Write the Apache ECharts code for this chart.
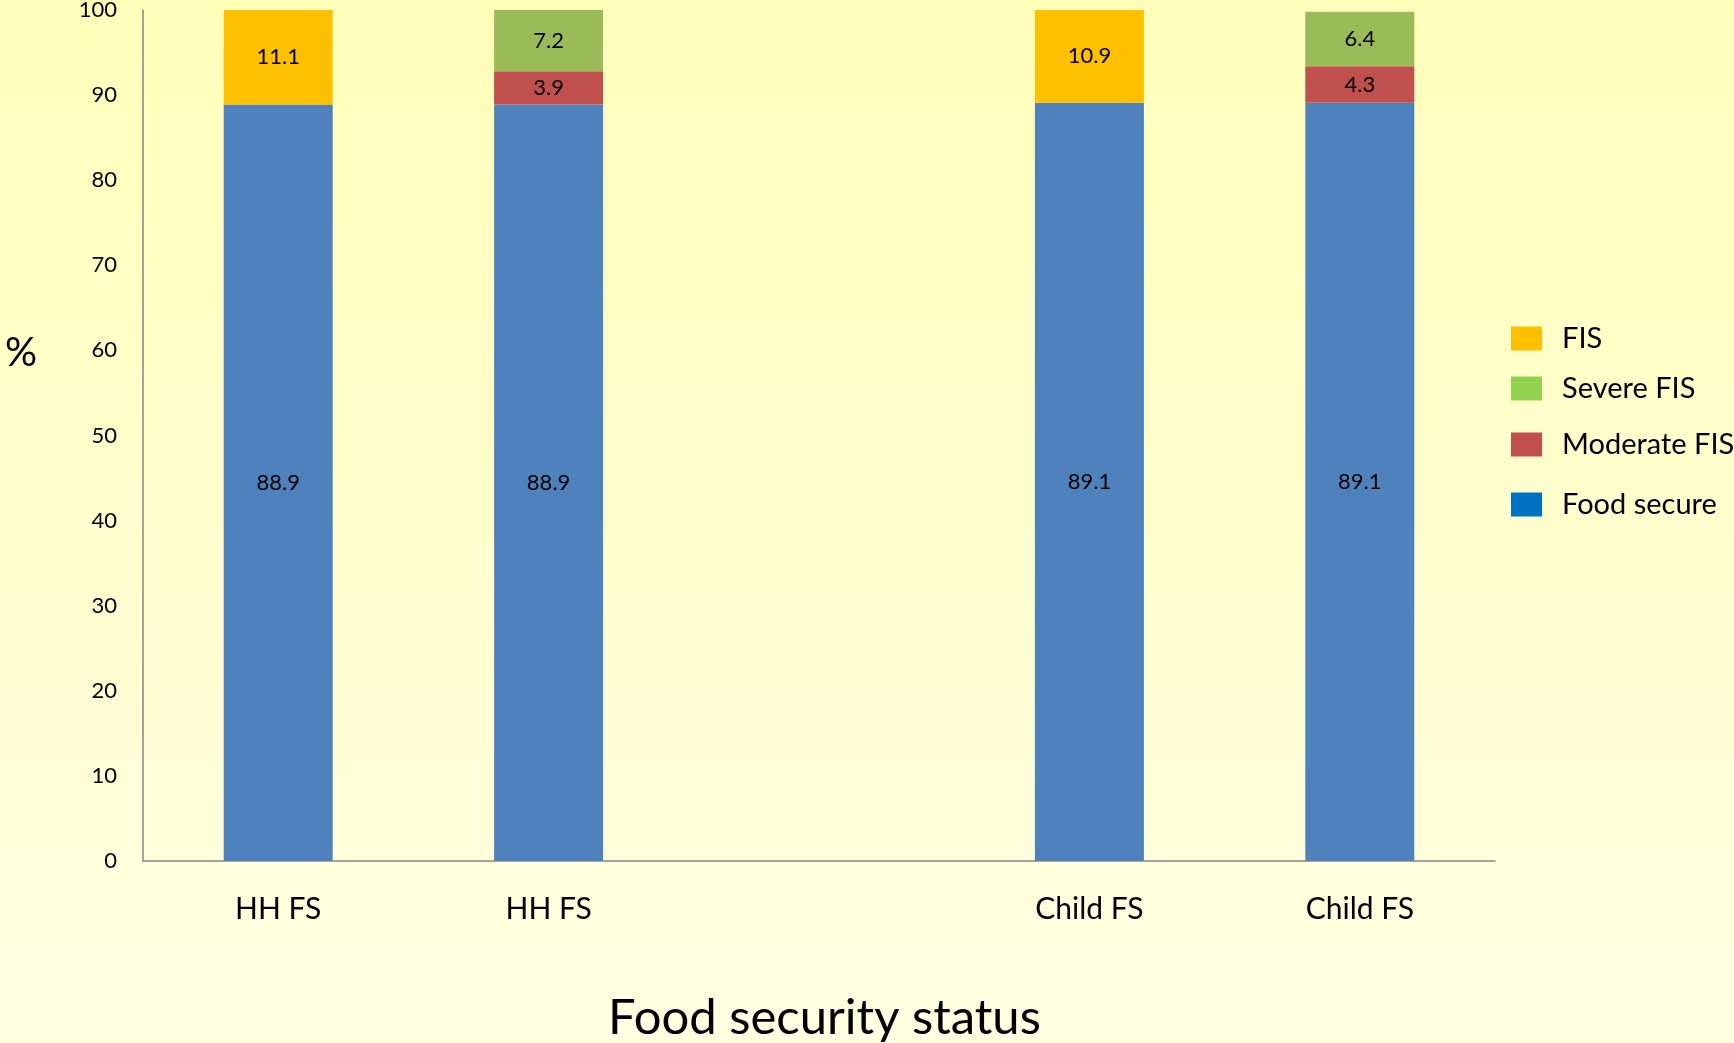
<!DOCTYPE html>
<html>
<head>
<meta charset="utf-8">
<script src="https://cdn.jsdelivr.net/npm/echarts@6/dist/echarts.min.js"></script>
<style>
html,body{margin:0;padding:0;}
#c{width:1734px;height:1043px;}
</style>
</head>
<body>
<div id="c"></div>
<script>
var categories = ['HH FS', 'HH FS', '', 'Child FS', 'Child FS'];
var foodSecure = [88.9, 88.9, '-', 89.1, 89.1];
var fis = [11.1, '-', '-', 10.9, '-'];
var moderateFis = ['-', 3.9, '-', '-', 4.3];
var severeFis = ['-', 7.2, '-', '-', 6.4];
var yTicks = [0, 10, 20, 30, 40, 50, 60, 70, 80, 90, 100];

var FONT = 'Lato';
var chart = echarts.init(document.getElementById('c'));

function barSeries(name, data, color) {
  return {
    name: name,
    type: 'bar',
    stack: 'total',
    data: data,
    barWidth: 109,
    itemStyle: { color: color },
    label: {
      show: true,
      position: 'inside',
      color: '#000',
      fontFamily: FONT,
      fontSize: 22,
      formatter: function (p) { return p.value; }
    },
    emphasis: { disabled: true }
  };
}

function legendAt(name, color, centerY) {
  return {
    data: [{ name: name, itemStyle: { color: color } }],
    left: 1511,
    top: centerY - 16,
    padding: 0,
    itemWidth: 31,
    itemHeight: 24,
    icon: 'rect',
    selectedMode: false,
    textStyle: { fontFamily: FONT, fontSize: 29, color: '#000', padding: [0, 0, 0, 15] }
  };
}

var option = {
  animation: false,
  backgroundColor: {
    type: 'linear', x: 0, y: 0, x2: 0, y2: 1,
    colorStops: [
      { offset: 0, color: '#FFFFBA' },
      { offset: 1, color: '#FFFFE2' }
    ]
  },
  grid: { left: 143, right: 239, top: 10, bottom: 182, containLabel: false, outerBoundsMode: 'none' },
  legend: [
    legendAt('FIS', '#FFC000', 340),
    legendAt('Severe FIS', '#92D050', 390),
    legendAt('Moderate FIS', '#C0504D', 446),
    legendAt('Food secure', '#0070C0', 506)
  ],
  xAxis: {
    type: 'category',
    data: categories,
    axisLine: { lineStyle: { color: '#868686', width: 1.5 } },
    axisTick: { show: false },
    axisLabel: { fontFamily: FONT, fontSize: 30, color: '#000', margin: 33, interval: 0 },
    name: 'Food security status',
    nameLocation: 'middle',
    nameGap: 133,
    nameTextStyle: { fontFamily: FONT, fontSize: 49, color: '#000', padding: [0, 0, 0, 11] }
  },
  yAxis: {
    type: 'value',
    min: yTicks[0],
    max: yTicks[yTicks.length - 1],
    interval: 10,
    axisLine: { show: true, lineStyle: { color: '#868686', width: 1.5 } },
    axisTick: { show: false },
    splitLine: { show: false },
    axisLabel: { fontFamily: FONT, fontSize: 22, color: '#000', margin: 26 }
  },
  graphic: [{
    type: 'text',
    left: 5,
    top: 333,
    style: { text: '%', fontFamily: FONT, fontSize: 40, fill: '#000' }
  }],
  series: [
    barSeries('Food secure', foodSecure, '#4F81BD'),
    barSeries('FIS', fis, '#FFC000'),
    barSeries('Moderate FIS', moderateFis, '#C0504D'),
    barSeries('Severe FIS', severeFis, '#9BBB59')
  ]
};
chart.setOption(option);
</script>
</body>
</html>
